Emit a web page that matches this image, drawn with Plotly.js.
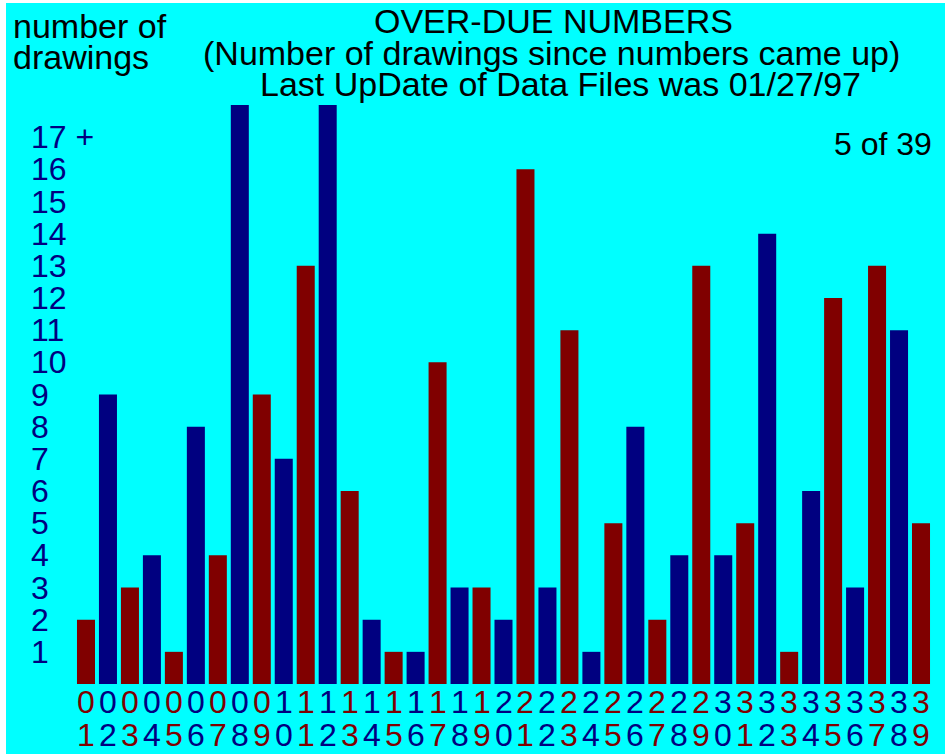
<!DOCTYPE html>
<html>
<head>
<meta charset="utf-8">
<script src="https://cdn.plot.ly/plotly-3.0.1.min.js"></script>
<style>
html,body{margin:0;padding:0;background:#ffffff;}
#chart{width:945px;height:754px;}
</style>
</head>
<body>
<div id="chart"></div>
<script>
// ---- data ----
var numbers = ['01','02','03','04','05','06','07','08','09','10',
               '11','12','13','14','15','16','17','18','19','20',
               '21','22','23','24','25','26','27','28','29','30',
               '31','32','33','34','35','36','37','38','39'];
var drawingsSince = [2,9,3,4,1,8,4,18,9,7,
                     13,18,6,2,1,1,10,3,3,2,
                     16,3,11,1,5,8,2,4,13,4,
                     5,14,1,6,12,3,13,11,5];
var yTickValues = [1,2,3,4,5,6,7,8,9,10,11,12,13,14,15,16,17];
var yTickLabels = ['1','2','3','4','5','6','7','8','9','10','11','12','13','14','15','16','17 +'];
var titleLines = ['OVER-DUE NUMBERS',
                  '(Number of drawings since numbers came up)',
                  'Last UpDate of Data Files was 01/27/97'];
var yAxisLabelLines = ['number of','drawings'];
var cornerNote = '5 of 39';

// ---- style / layout ----
var RED = '#800000', BLUE = '#000080', CYAN = '#00FFFF';
var W = 945, H = 754, L = 75, R = 13, T = 105, B = 70;
var PW = W - L - R, PH = H - T - B;
function px(p){ return (p - L) / PW; }
function py(p){ return (H - B - p) / PH; }

var colors = numbers.map(function(_, i){ return i % 2 === 0 ? RED : BLUE; });
var FONT = 'Liberation Sans, Arial, sans-serif';

var annotations = [];
// title lines
var titleY = [21, 53, 84];
var titleX = [553, 551, 560];
titleLines.forEach(function(t, i){
  annotations.push({xref:'paper', yref:'paper', x:px(titleX[i]), y:py(titleY[i]),
    xanchor:'center', yanchor:'middle', showarrow:false, text:t,
    font:{family:FONT, size:34, color:'#000000'}});
});
// y-axis label lines
var ylabY = [26, 57];
yAxisLabelLines.forEach(function(t, i){
  annotations.push({xref:'paper', yref:'paper', x:px(11), y:py(ylabY[i]),
    xanchor:'left', yanchor:'middle', showarrow:false, text:t,
    font:{family:FONT, size:34, color:'#000000'}});
});
// corner note
annotations.push({xref:'paper', yref:'paper', x:px(934), y:py(144),
  xanchor:'right', yanchor:'middle', showarrow:false, text:cornerNote,
  font:{family:FONT, size:32, color:'#000000'}});
// y tick labels
yTickValues.forEach(function(v, i){
  annotations.push({xref:'paper', yref:'y', x:px(29), y:v,
    xanchor:'left', yanchor:'middle', showarrow:false, text:yTickLabels[i],
    font:{family:FONT, size:32, color:BLUE}});
});
// x tick labels (two rows of digits), placed at category index
numbers.forEach(function(n, i){
  annotations.push({xref:'x', yref:'paper', x:i, y:py(702),
    xanchor:'center', yanchor:'middle', showarrow:false, text:n.charAt(0),
    font:{family:FONT, size:32, color:colors[i]}});
  annotations.push({xref:'x', yref:'paper', x:i, y:py(735),
    xanchor:'center', yanchor:'middle', showarrow:false, text:n.charAt(1),
    font:{family:FONT, size:32, color:colors[i]}});
});

var trace = {
  type:'bar', x:numbers, y:drawingsSince,
  marker:{color:colors, line:{width:0}},
  hoverinfo:'skip'
};

var layout = {
  width:W, height:H,
  margin:{l:L, r:R, t:T, b:B, pad:0},
  paper_bgcolor:'#ffffff', plot_bgcolor:CYAN,
  showlegend:false,
  bargap:0.18,
  xaxis:{type:'category', range:[-0.5, numbers.length - 0.5], showticklabels:false,
         showgrid:false, zeroline:false, showline:false, ticks:'', fixedrange:true},
  yaxis:{range:[0, 18], showticklabels:false, showgrid:false, zeroline:false,
         showline:false, ticks:'', fixedrange:true},
  shapes:[{type:'rect', xref:'paper', yref:'paper', layer:'below',
           x0:px(6), x1:px(W), y0:py(H), y1:py(3),
           fillcolor:CYAN, line:{width:0}}],
  annotations:annotations
};

Plotly.newPlot('chart', [trace], layout, {staticPlot:true, displayModeBar:false});
</script>
</body>
</html>
